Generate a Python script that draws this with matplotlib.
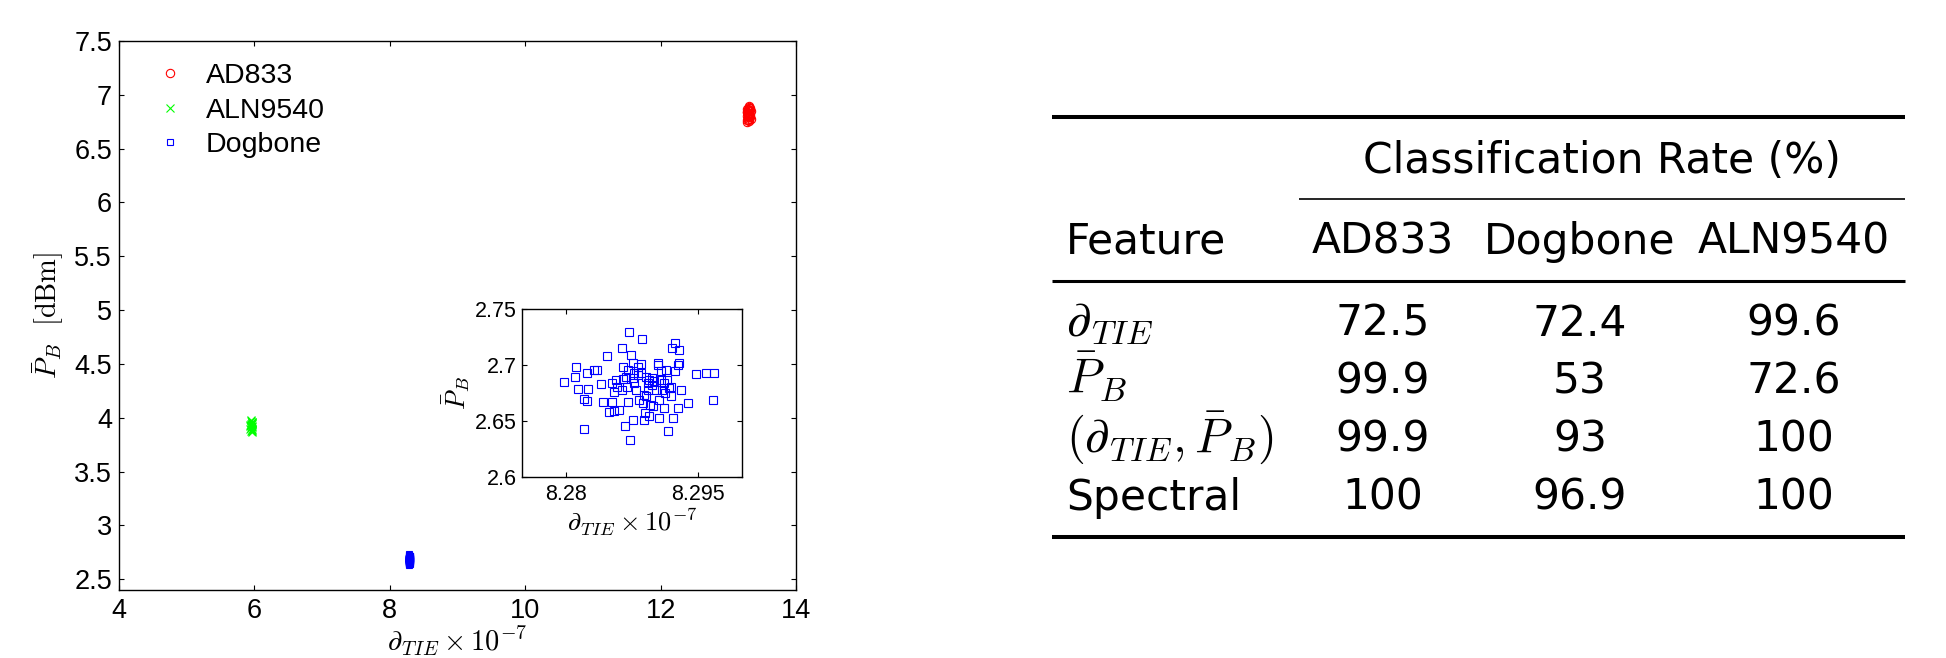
import matplotlib

matplotlib.use("Agg")
import matplotlib.pyplot as plt
import numpy as np

plt.rcParams["font.family"] = ["Liberation Sans", "DejaVu Sans"]
plt.rcParams["mathtext.fontset"] = "cm"

# scatter data
ad833_x = [13.27, 13.28, 13.29, 13.30, 13.31, 13.32, 13.33, 13.28, 13.30, 13.32,
           13.29, 13.31, 13.30, 13.27, 13.33, 13.29, 13.31, 13.30, 13.28, 13.32,
           13.29, 13.30, 13.31, 13.28, 13.32, 13.30, 13.29, 13.31]
ad833_y = [6.80, 6.84, 6.77, 6.88, 6.82, 6.79, 6.85, 6.75, 6.90, 6.81,
           6.86, 6.76, 6.83, 6.87, 6.78, 6.82, 6.89, 6.80, 6.84, 6.86,
           6.79, 6.85, 6.81, 6.77, 6.88, 6.83, 6.87, 6.78]
aln_x = [5.94, 5.95, 5.96, 5.97, 5.95, 5.96, 5.94, 5.97, 5.96, 5.95,
         5.96, 5.95, 5.97, 5.94, 5.96, 5.95, 5.96, 5.97, 5.95, 5.96]
aln_y = [3.92, 3.88, 3.95, 3.90, 3.97, 3.87, 3.93, 3.96, 3.91, 3.98,
         3.89, 3.94, 3.92, 3.90, 3.96, 3.93, 3.88, 3.95, 3.91, 3.94]
dog_x = [8.27973, 8.28118, 8.28107, 8.28137, 8.28210, 8.28240, 8.28240, 8.28252,
         8.28317, 8.28210, 8.28393, 8.28420, 8.28469, 8.28489, 8.28527, 8.28527,
         8.28546, 8.28565, 8.28546, 8.28584, 8.28603, 8.28634, 8.28653, 8.28653,
         8.28668, 8.28679, 8.28699, 8.28699, 8.28718, 8.28725, 8.28744, 8.28756,
         8.28763, 8.28775, 8.28775, 8.28794, 8.28813, 8.28851, 8.28851, 8.28863,
         8.28870, 8.28889, 8.28897, 8.28908, 8.28928, 8.28935, 8.28947, 8.28958,
         8.28977, 8.29004, 8.29023, 8.29042, 8.29050, 8.29061, 8.29080, 8.29080,
         8.29092, 8.29111, 8.29126, 8.29137, 8.29145, 8.29157, 8.29176, 8.29195,
         8.29206, 8.29221, 8.29233, 8.29244, 8.29271, 8.29279, 8.29279, 8.29271,
         8.29309, 8.29386, 8.29481, 8.29596, 8.29683, 8.29672, 8.28813, 8.28691,
         8.28355, 8.28985, 8.29061, 8.28832, 8.28641, 8.28767, 8.28973, 8.28908,
         8.29111, 8.29195, 8.28882, 8.28947]
dog_y = [2.6847, 2.6980, 2.6891, 2.6784, 2.6695, 2.6680, 2.6933, 2.6784,
         2.6951, 2.6428, 2.6826, 2.6668, 2.7081, 2.6579, 2.6668, 2.6838,
         2.6588, 2.6867, 2.6763, 2.6808, 2.6600, 2.7150, 2.6986, 2.6873,
         2.6458, 2.6897, 2.6674, 2.6957, 2.7298, 2.6333, 2.7090, 2.7016,
         2.6511, 2.6927, 2.6838, 2.6778, 2.6912, 2.7010, 2.6927, 2.7230,
         2.6660, 2.6734, 2.6570, 2.6897, 2.6838, 2.6778, 2.6541, 2.6645,
         2.6882, 2.6853, 2.6778, 2.7001, 2.7022, 2.6526, 2.6942, 2.6867,
         2.6778, 2.6615, 2.6749, 2.6957, 2.6867, 2.6407, 2.6793, 2.6808,
         2.7150, 2.6526, 2.7194, 2.6942, 2.7001, 2.7022, 2.7135, 2.6615,
         2.6778, 2.6660, 2.6921, 2.6933, 2.6927, 2.6689, 2.6986, 2.6808,
         2.6957, 2.6630, 2.6689, 2.6689, 2.6778, 2.6882, 2.6823, 2.6719,
         2.6838, 2.6719, 2.6511, 2.6867]

main_xticks = [4, 6, 8, 10, 12, 14]
main_yticks = [2.5, 3, 3.5, 4, 4.5, 5, 5.5, 6, 6.5, 7, 7.5]
main_ylabels = ["2.5", "3", "3.5", "4", "4.5", "5", "5.5", "6", "6.5", "7", "7.5"]
inset_xticks = [8.28, 8.295]
inset_xlabels = ["8.28", "8.295"]
inset_yticks = [2.6, 2.65, 2.7, 2.75]
inset_ylabels = ["2.6", "2.65", "2.7", "2.75"]

# table data
features = [r"$\partial_{TIE}$", r"$\bar{P}_B$", r"$(\partial_{TIE},\bar{P}_B)$", "Spectral"]
classes = ["AD833", "Dogbone", "ALN9540"]
rates = [[72.5, 72.4, 99.6],
         [99.9, 53, 72.6],
         [99.9, 93, 100],
         [100, 96.9, 100]]

W, H = 1946, 658
fig = plt.figure(figsize=(W / 100, H / 100), dpi=100)


def style(ax, size, pad_x, pad_y):
    ax.tick_params(direction="in", top=True, right=True, length=3.5, width=0.8,
                   labelsize=size)
    ax.tick_params(axis="x", pad=pad_x)
    ax.tick_params(axis="y", pad=pad_y)
    for s in ax.spines.values():
        s.set_linewidth(1.0)


ax = fig.add_axes([119 / W, 1 - 590 / H, 677 / W, 549 / H])
ax.plot(ad833_x, ad833_y, "o", mfc="none", mec="#ff0000", ms=6, mew=0.8, label="AD833")
ax.plot(aln_x, aln_y, "x", color="#00ff00", ms=6, mew=0.8, label="ALN9540")
ax.plot(dog_x, dog_y, "s", mfc="none", mec="#0000ff", ms=5, mew=0.8, label="Dogbone")
ax.set_xlim(4, 14)
ax.set_ylim(2.4, 7.5)
ax.set_xticks(main_xticks)
ax.set_yticks(main_yticks)
ax.set_yticklabels(main_ylabels)
style(ax, 19.5, 6, 5)
ax.set_xlabel(r"$\partial_{TIE}\times10^{-7}$", fontsize=20.5, labelpad=0)
ax.set_ylabel(r"$\bar{P}_B\ \ [\mathrm{dBm}]$", fontsize=20.5, labelpad=6)
ax.legend(loc="upper left", bbox_to_anchor=(0.046, 0.96), frameon=False,
          fontsize=20.5, borderpad=0, borderaxespad=0, labelspacing=0.3,
          handlelength=1.4, handletextpad=0.55)

ins = fig.add_axes([522 / W, 1 - 477 / H, 220 / W, 168 / H])
ins.plot(dog_x, dog_y, "s", mfc="none", mec="#0000ff", ms=5.2, mew=0.8)
ins.set_xlim(8.275, 8.3)
ins.set_ylim(2.6, 2.75)
ins.set_xticks(inset_xticks)
ins.set_xticklabels(inset_xlabels)
ins.set_yticks(inset_yticks)
ins.set_yticklabels(inset_ylabels)
style(ins, 15.5, 5, 4)
ins.set_xlabel(r"$\partial_{TIE}\times10^{-7}$", fontsize=19, labelpad=1)
ins.set_ylabel(r"$\bar{P}_B$", fontsize=19, labelpad=2)

# table drawn in pixel space
tab = fig.add_axes([0, 0, 1, 1])
tab.set_xlim(0, W)
tab.set_ylim(H, 0)
tab.axis("off")
tab.patch.set_visible(False)

tfont = dict(family="DejaVu Sans", fontsize=30.5, va="baseline")
mfont = dict(family="DejaVu Sans", fontsize=35, va="baseline")
x_left, x_right = 1052, 1905
col_x = [1383, 1580, 1794]
row_y = [336, 394, 452, 510]

tab.hlines(117, x_left, x_right, color="black", lw=2.9)
tab.hlines(199, 1299, x_right, color="black", lw=1.2)
tab.hlines(281, x_left, x_right, color="black", lw=2.2)
tab.hlines(537, x_left, x_right, color="black", lw=2.9)

tab.text(1602, 173, "Classification Rate (%)", ha="center", **tfont)
tab.text(1066, 254, "Feature", ha="left", **tfont)
for cx, name in zip(col_x, classes):
    tab.text(cx, 254, name, ha="center", **tfont)
for ry, feat, vals in zip(row_y, features, rates):
    lab_font = mfont if feat.startswith("$") else tfont
    tab.text(1066, ry, feat, ha="left", **lab_font)
    for cx, v in zip(col_x, vals):
        tab.text(cx, ry, f"{v:g}", ha="center", **tfont)

fig.savefig("out.png", dpi=100)
